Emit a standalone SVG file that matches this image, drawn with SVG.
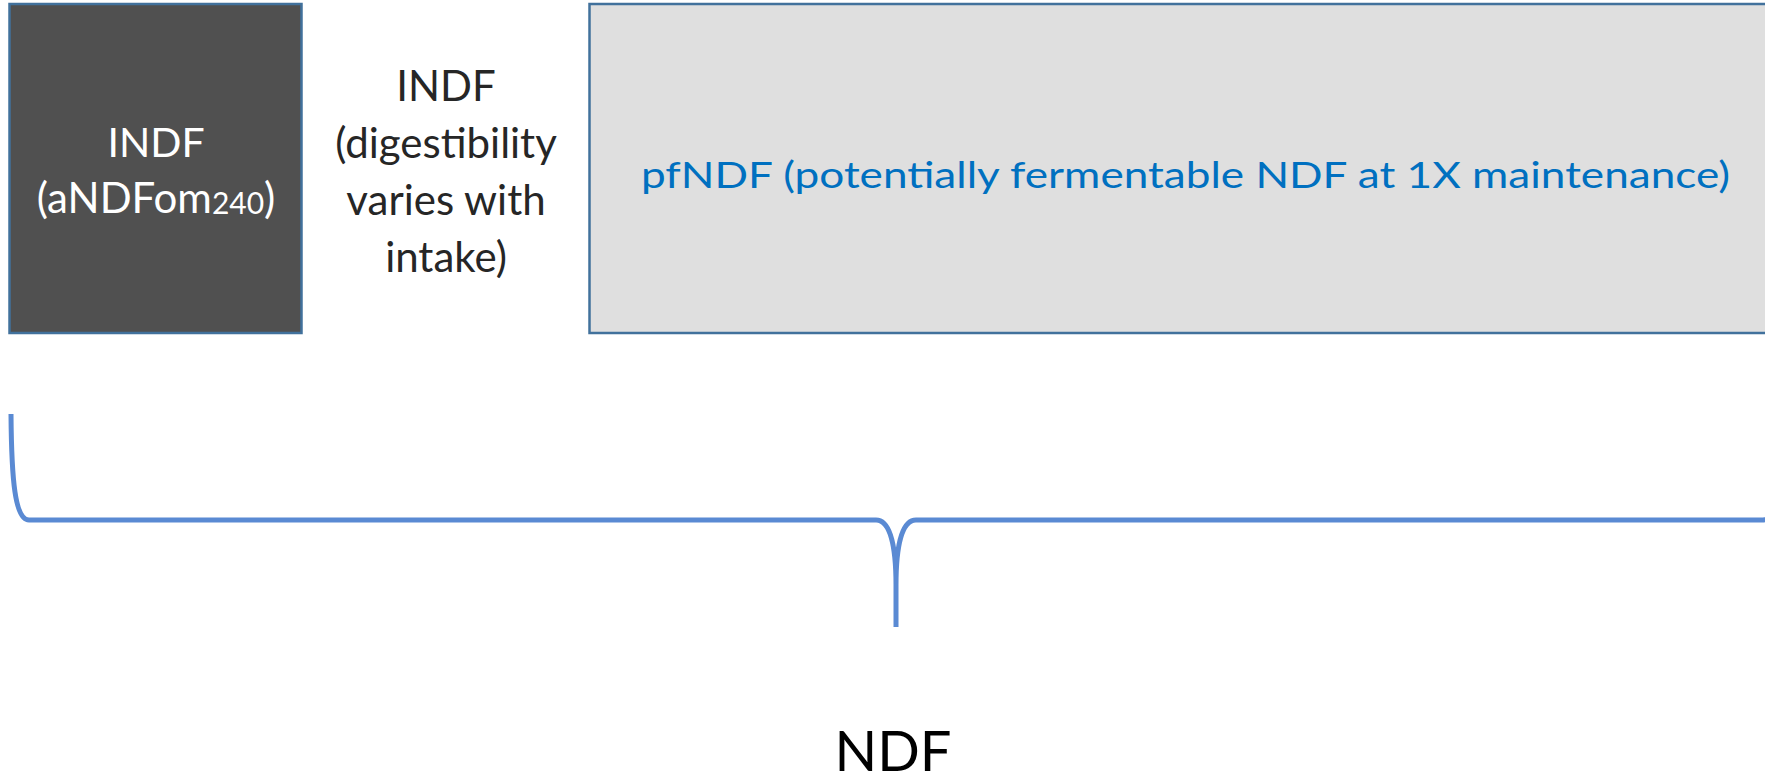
<svg xmlns="http://www.w3.org/2000/svg" width="1765" height="779" viewBox="0 0 1765 779">
  <style>
    .box { stroke: #41719c; stroke-width: 2.5; }
    .lbl { font-family: Lato, "Open Sans", "Liberation Sans", sans-serif; text-anchor: middle; }
    .brace { fill: none; stroke: #5a8ad3; stroke-width: 5; stroke-linejoin: round; }
  </style>
  <rect width="1765" height="779" fill="#ffffff"/>

  <!-- indigestible fraction -->
  <g id="indf-box">
    <rect class="box" x="9.5" y="4" width="292" height="329" fill="#505050"/>
    <text class="lbl" x="156" y="157" font-size="41" fill="#ffffff">INDF</text>
    <text class="lbl" x="156" y="213" font-size="42" fill="#ffffff">(aNDFom<tspan font-size="30" dy="1">240</tspan><tspan dy="-1">)</tspan></text>
  </g>

  <!-- intake-dependent fraction (no frame) -->
  <g id="indf-variable">
    <text class="lbl" x="446" y="101" font-size="42" fill="#262626">INDF</text>
    <text class="lbl" x="446" y="158" font-size="42" fill="#262626">(digestibility</text>
    <text class="lbl" x="446" y="215" font-size="42" fill="#262626">varies with</text>
    <text class="lbl" x="446" y="272" font-size="42" fill="#262626">intake)</text>
  </g>

  <!-- potentially fermentable fraction -->
  <g id="pfndf-box">
    <rect class="box" x="589.5" y="4" width="1200" height="329" fill="#dfdfdf"/>
    <text class="lbl" x="1185.5" y="188" font-size="37" fill="#0070c0" textLength="1089" lengthAdjust="spacingAndGlyphs">pfNDF (potentially fermentable NDF at 1X maintenance)</text>
  </g>

  <!-- bracket spanning all fractions -->
  <g id="connectors">
    <path class="brace" d="M11,414 C11.5,480 15,520 29,520 L876,520 C890,520 896,545 896,585 L896,627 M896,585 C896,545 902,520 916,520 L1763,520 C1777,520 1780.5,480 1781,414"/>
  </g>

  <g id="ndf-label">
    <text class="lbl" x="893" y="771" font-size="56" fill="#000000">NDF</text>
  </g>
</svg>
